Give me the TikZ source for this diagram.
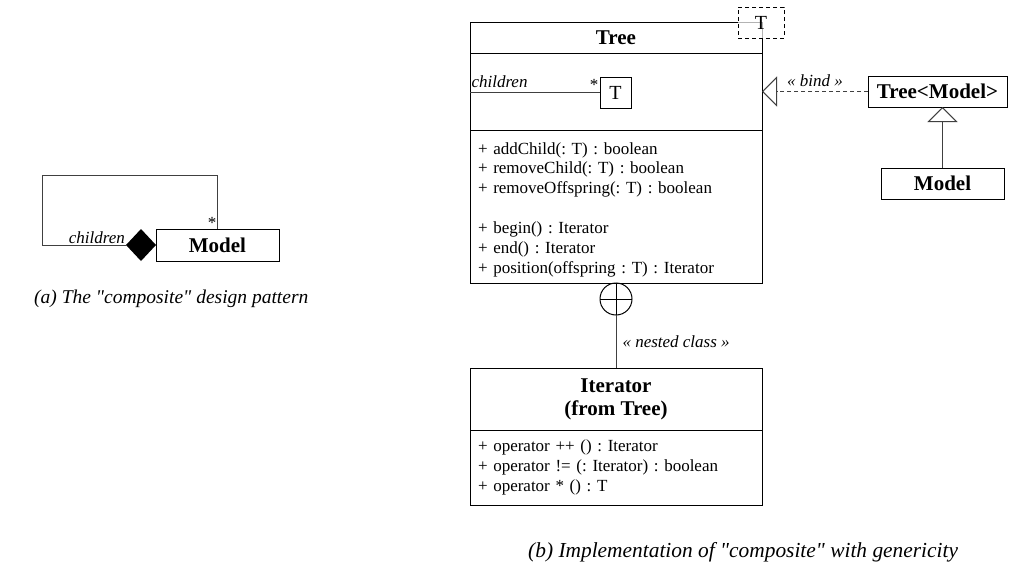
\documentclass[tikz,border=0pt]{standalone}
\usepackage{fontspec}
\setmainfont[Ligatures=TeXOff]{Liberation Serif}
\usepackage{tikz}
\usetikzlibrary{positioning}
\usetikzlibrary{shapes.geometric}
\usetikzlibrary{arrows.meta}
\frenchspacing

\begin{document}
\begin{tikzpicture}[x=1pt,y=-1pt,
    class box/.style={draw,line width=1pt,inner sep=0pt,outer sep=0pt,align=center,
      font=\fontsize{21}{23}\selectfont\bfseries},
    member box/.style={draw,line width=1pt,inner sep=0pt,outer sep=0pt,minimum width=292pt,
      text width=276pt,align=left,font=\fontsize{17}{19.8}\selectfont},
    param box/.style={draw,line width=1pt,inner sep=0pt,outer sep=0pt,
      font=\fontsize{20}{20}\selectfont},
    label text/.style={inner sep=1pt,font=\fontsize{17}{19}\selectfont\itshape},
    mult text/.style={inner sep=0pt,font=\fontsize{17}{19}\selectfont},
    caption text/.style={inner sep=0pt,anchor=base west,font=\fontsize{20}{22}\selectfont\itshape},
    link/.style={line width=1pt,draw=black!75},
    open tip/.style={-{Triangle[open,length=15pt,width=30pt]}},
    ]
  \path[fill=white] (0,0) rectangle (1013,570);
  \useasboundingbox (0,0) rectangle (1013,570);

  % (a) composite pattern
  \node[class box,minimum width=123pt,minimum height=32pt] (model) at (217.5,245) {Model};
  \node[diamond,fill=black,inner sep=0pt,outer sep=0pt,minimum width=30pt,minimum height=32pt,
    left=0pt of model] (comp) {};
  \coordinate (loopcorner) at (42,175);
  \draw[link] (comp.west) -| (loopcorner) -| (model.north);
  \node[label text,anchor=south east] at (comp.west) {children};
  \node[mult text] at (212,223) {*};

  \node[caption text,font=\fontsize{19.5}{22}\selectfont\itshape] (capa) at (34,303)
    {(a) The "composite" design pattern};

  % (b) Tree class
  \node[class box,minimum width=292pt,minimum height=31pt] (tree) at (616,37.5) {Tree};
  \node[member box,minimum height=77pt,below=0pt of tree] (treeattr) {};
  \node[member box,minimum height=153pt,below=0pt of treeattr] (treeops) {%
    \rule{0pt}{18pt}+ addChild(: T) : boolean\\
    + removeChild(: T) : boolean\\
    + removeOffspring(: T) : boolean\\[20pt]
    + begin() : Iterator\\
    + end() : Iterator\\
    + position(offspring : T) : Iterator};

  \node[param box,minimum size=31pt] (attrT) at (615.5,92.5) {T};
  \draw[link] (treeattr.west |- attrT) -- (attrT.west)
    node[pos=0,label text,anchor=south west,yshift=3pt] {children};
  \node[mult text] at (594,85) {*};

  \node[param box,dashed,dash pattern=on 4pt off 3pt,fill=white,fill opacity=0.7,text opacity=1,
    minimum width=46pt,minimum height=31pt] (tparam) at (761,22.5) {T};

  % binding
  \node[class box,minimum width=139pt,minimum height=31pt] (treemodel) at (937.5,91.5) {Tree<Model>};
  \node[class box,minimum width=123pt,minimum height=31pt] (model2) at (942.5,183.5) {Model};

  \draw[link,dash pattern=on 4pt off 3pt,open tip] (treemodel.west) -- (treeattr.east)
    node[midway,above=3pt,label text] {« bind »};
  \draw[link,open tip] (model2.north) -- (model2.north |- treemodel.south);

  % nested Iterator
  \node[draw,circle,line width=1pt,inner sep=0pt,outer sep=0pt,minimum size=32pt,
    below=0pt of treeops] (nest) {};
  \draw[line width=1pt] (nest.north) -- (nest.south) (nest.west) -- (nest.east);

  \node[class box,minimum width=292pt,minimum height=62pt] (iterhead) at (616,399)
    {Iterator\\(from Tree)};
  \node[member box,minimum height=75pt,below=0pt of iterhead] (iterops) {%
    + operator ++ () : Iterator\\
    + operator != (: Iterator) : boolean\\
    + operator * () : T};

  \draw[link] (nest.south) -- (iterhead.north)
    node[midway,right=5pt,label text] {« nested class »};

  \node[caption text,font=\fontsize{21.4}{24}\selectfont\itshape] (capb) at (528,557)
    {(b) Implementation of "composite" with genericity};
\end{tikzpicture}
\end{document}
